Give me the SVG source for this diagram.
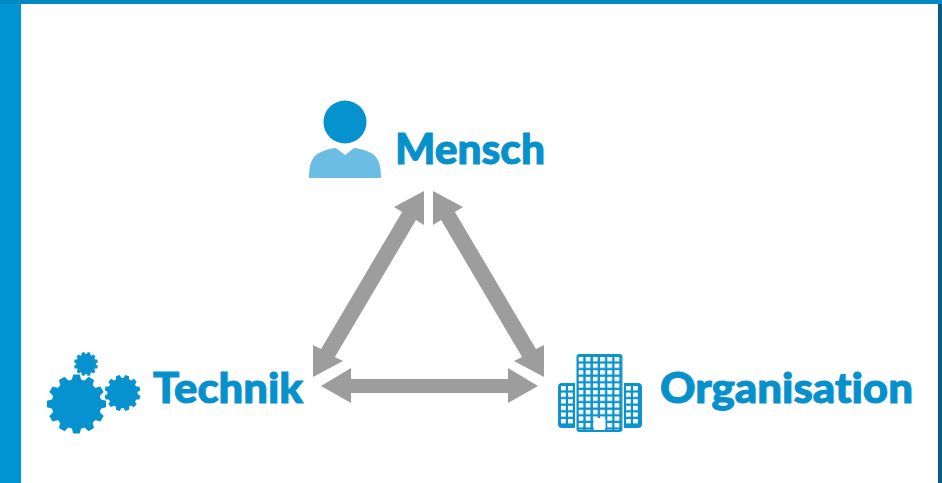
<svg xmlns="http://www.w3.org/2000/svg" width="942" height="483" viewBox="0 0 942 483">
<style>
.lbl{font-family:"Lato","Liberation Sans",sans-serif;font-weight:900;font-size:42px;fill:#0690cc;stroke:#0690cc;stroke-width:1px;font-variant-ligatures:none}
.arrow{fill:#9d9d9d}
.gear{fill:#0692cf}
</style>
<defs>
<pattern id="win" width="7.2" height="6.6" patternUnits="userSpaceOnUse" x="578.5" y="357">
<rect width="4.800" height="4.300" fill="#fff"/>
</pattern>
<pattern id="win2" width="7" height="6.6" patternUnits="userSpaceOnUse" x="561" y="386">
<rect width="4.800" height="4.300" fill="#fff"/>
</pattern>
<pattern id="win3" width="7" height="6.6" patternUnits="userSpaceOnUse" x="626" y="386">
<rect width="4.800" height="4.300" fill="#fff"/>
</pattern>
<polygon id="t" points="-17,-78 -11,-100 11,-100 17,-78"/>
<g id="gear" class="gear">
<circle r="84"/>
<use href="#t"/>
<use href="#t" transform="rotate(30)"/>
<use href="#t" transform="rotate(60)"/>
<use href="#t" transform="rotate(90)"/>
<use href="#t" transform="rotate(120)"/>
<use href="#t" transform="rotate(150)"/>
<use href="#t" transform="rotate(180)"/>
<use href="#t" transform="rotate(210)"/>
<use href="#t" transform="rotate(240)"/>
<use href="#t" transform="rotate(270)"/>
<use href="#t" transform="rotate(300)"/>
<use href="#t" transform="rotate(330)"/>
</g>
</defs>
<rect width="942" height="483" fill="#fff"/>
<rect width="21" height="483" fill="#0095d0"/>
<rect width="942" height="4" fill="#0089c2"/>
<rect x="938" width="4" height="483" fill="#005f88"/>
<rect x="938" width="4" height="4" fill="#0089c2"/>
<g id="connectors" class="arrow">
<polygon points="424,191 394,207 402.100,211.900 321.100,348.900 313,345 313,377 343,361 334.900,357.100 415.900,220.100 424,225"/>
<polygon points="433,191 463,207 454.900,211.900 535.900,348.900 544,345 544,377 514,361 522.100,357.100 441.100,220.100 433,225"/>
<polygon points="321,386 351,368 351,379 508,379 508,368 538,386 508,403 508,393 351,393 351,403"/>
</g>
<g id="mensch">
<circle cx="345" cy="122" r="21.5" fill="#0692cf"/>
<path d="M309,178 C309,166 311,156 321,152 C328,149 333,148 336,148 L345,155 L354,148 C357,148 362,149 369,152 C379,156 381,166 381,178 Z" fill="#6bbde3"/>
<text class="lbl" x="395" y="164" textLength="150" lengthAdjust="spacingAndGlyphs">Mensch</text>
</g>
<g id="technik">
<use href="#gear" transform="translate(76.500,404) scale(.295)"/>
<use href="#gear" transform="translate(122.500,393) scale(.18) rotate(15)"/>
<use href="#gear" transform="translate(86,364) scale(.12) rotate(15)"/>
<text class="lbl" x="153" y="403" textLength="150" lengthAdjust="spacingAndGlyphs">Technik</text>
</g>
<g id="organisation">
<rect x="558" y="383" width="84" height="45" rx="4" fill="#0c93cd"/>
<rect x="561" y="386" width="12" height="39" fill="url(#win2)"/>
<rect x="626" y="386" width="12" height="39" fill="url(#win3)"/>
<rect x="575" y="353" width="49" height="80" rx="4" fill="#fff"/>
<rect x="576.500" y="354" width="46" height="78" rx="3" fill="#0c93cd"/>
<rect x="578.500" y="357" width="43" height="73" fill="url(#win)"/>
<rect x="593.500" y="418" width="12" height="12" rx="2" fill="#fff"/>
<text class="lbl" x="660" y="403" textLength="253" lengthAdjust="spacingAndGlyphs">Organisation</text>
</g>
</svg>
